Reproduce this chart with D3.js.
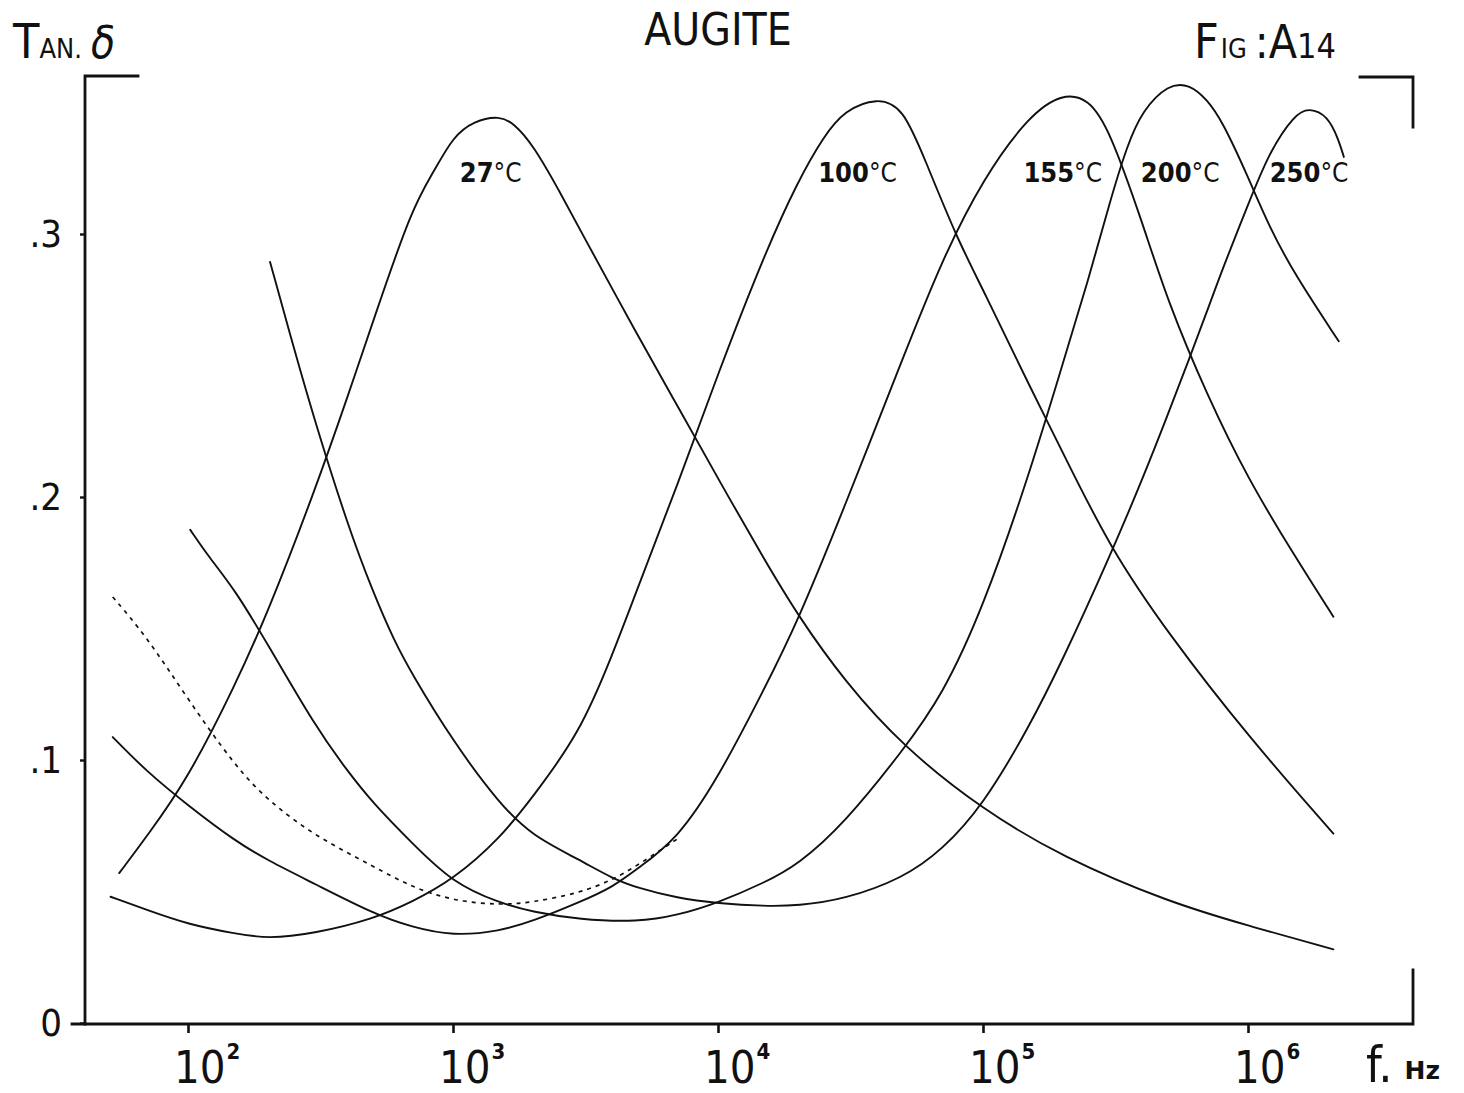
<!DOCTYPE html>
<html>
<head>
<meta charset="utf-8">
<script src="https://cdn.jsdelivr.net/npm/d3@7"></script>
<style>
  body { margin: 0; background: #fff; }
  svg { display: block; }
  text { font-family: "DejaVu Sans", "Liberation Sans", sans-serif; fill: #111; }
  .narrow { font-family: "Liberation Sans Narrow", "DejaVu Sans Condensed", "DejaVu Sans", sans-serif; font-stretch: condensed; }
</style>
</head>
<body>
<svg id="chart" width="1464" height="1093"></svg>
<script>
// ---- Loss tangent of augite versus frequency, one curve per temperature ----

// Frequencies in Hz, loss tangent (tan δ) at each frequency
const freq27  = [55, 70, 100, 150, 200, 300, 400, 500, 700, 850, 1000, 1200, 1500, 1700, 2000, 2500, 3000, 5000, 7000, 1e4, 1.5e4, 2e4, 3e4, 5e4, 1e5, 2e5, 5e5, 1e6, 2.1e6];
const tan27   = [0.057, 0.071, 0.093, 0.128, 0.156, 0.202, 0.238, 0.267, 0.310, 0.324, 0.337, 0.343, 0.345, 0.342, 0.334, 0.317, 0.302, 0.261, 0.235, 0.207, 0.176, 0.155, 0.130, 0.105, 0.081, 0.063, 0.046, 0.037, 0.028];

const freq100 = [51, 70, 100, 150, 200, 300, 500, 700, 1000, 1500, 2000, 3000, 4000, 5000, 7000, 1e4, 1.5e4, 2e4, 2.5e4, 3e4, 4e4, 5e4, 6e4, 8e4, 1e5, 1.5e5, 2e5, 3e5, 5e5, 1e6, 2.1e6];
const tan100  = [0.048, 0.043, 0.0375, 0.034, 0.032, 0.034, 0.0395, 0.046, 0.0545, 0.070, 0.086, 0.110, 0.140, 0.166, 0.204, 0.247, 0.2925, 0.320, 0.337, 0.347, 0.352, 0.348, 0.329, 0.298, 0.279, 0.242, 0.217, 0.181, 0.148, 0.109, 0.072];

const freq155 = [52, 70, 100, 150, 200, 300, 500, 700, 1000, 1500, 2000, 3000, 4000, 5000, 7000, 1e4, 1.5e4, 2e4, 3e4, 5e4, 7e4, 1e5, 1.5e5, 2e5, 2.5e5, 3e5, 4e5, 5e5, 7e5, 1e6, 1.5e6, 2.1e6];
const tan155  = [0.1087, 0.0955, 0.0827, 0.0693, 0.0618, 0.053, 0.0416, 0.0364, 0.0331, 0.0349, 0.0387, 0.0459, 0.0516, 0.0589, 0.0698, 0.0930, 0.1273, 0.1527, 0.1961, 0.2532, 0.2901, 0.3211, 0.3454, 0.3535, 0.3515, 0.3398, 0.3042, 0.2738, 0.2388, 0.2068, 0.1776, 0.1545];

const freq200 = [102, 120, 150, 200, 300, 400, 500, 700, 1000, 1500, 2000, 3000, 5000, 7000, 1e4, 1.5e4, 2e4, 3e4, 5e4, 7e4, 1e5, 1.5e5, 2e5, 2.5e5, 3e5, 3.5e5, 4e5, 5e5, 6e5, 7e5, 8e5, 1e6, 1.2e6, 1.5e6, 2.2e6];
const tan200  = [0.1875, 0.1771, 0.1649, 0.144, 0.1133, 0.0957, 0.0835, 0.0684, 0.0532, 0.0456, 0.0422, 0.0393, 0.0384, 0.0409, 0.0457, 0.0534, 0.0601, 0.0759, 0.1038, 0.1243, 0.1577, 0.209, 0.2508, 0.2825, 0.3118, 0.3338, 0.347, 0.357, 0.357, 0.3512, 0.3429, 0.3218, 0.3029, 0.2846, 0.2592];

const freq250 = [204, 250, 300, 400, 500, 600, 700, 1000, 1500, 2000, 3000, 4000, 5000, 7000, 1e4, 1.5e4, 2e4, 3e4, 5e4, 7e4, 1e5, 1.5e5, 2e5, 3e5, 4e5, 5e5, 6e5, 7e5, 8e5, 1e6, 1.2e6, 1.5e6, 1.7e6, 2e6, 2.2e6, 2.3e6];
const tan250  = [0.2894, 0.2571, 0.2293, 0.1894, 0.1636, 0.1453, 0.1327, 0.1071, 0.0832, 0.071, 0.0621, 0.0549, 0.0513, 0.0475, 0.0455, 0.0444, 0.0446, 0.047, 0.0551, 0.0657, 0.0827, 0.1129, 0.1381, 0.1771, 0.2068, 0.2317, 0.2525, 0.2705, 0.2866, 0.3111, 0.331, 0.3455, 0.348, 0.345, 0.3357, 0.3293];

// Low-frequency branch drawn dotted (unlabelled)
const freqDot = [52, 70, 100, 150, 200, 300, 500, 700, 1000, 1500, 2000, 3000, 4000, 5000, 7200];
const tanDot  = [0.162, 0.1468, 0.123, 0.0979, 0.0846, 0.0712, 0.0596, 0.0516, 0.0465, 0.0448, 0.0459, 0.0494, 0.0544, 0.0601, 0.0707];

const tempLabels = ["27", "100", "155", "200", "250"];
const decades = [2, 3, 4, 5, 6];
const yTicks = [0, 0.1, 0.2, 0.3];

const series = [
  { label: tempLabels[0], f: freq27,  t: tan27 },
  { label: tempLabels[1], f: freq100, t: tan100 },
  { label: tempLabels[2], f: freq155, t: tan155 },
  { label: tempLabels[3], f: freq200, t: tan200 },
  { label: tempLabels[4], f: freq250, t: tan250 }
];

// ---- Scales ----
const svg = d3.select("#chart");
const x = d3.scaleLog().domain([1e2, 1e6]).range([188, 1248]);
const y = d3.scaleLinear().domain([0, 0.3]).range([1023, 234]);

const ink = "#111";

// ---- Frame: left and bottom axes with bracket corners ----
const frame = svg.append("g")
  .attr("fill", "none").attr("stroke", ink)
  .attr("stroke-width", 2.8).attr("stroke-linecap", "square");
frame.append("path").attr("d", "M138,76 H85 V1024");
frame.append("path").attr("d", "M72,1024 H1413 V970");
frame.append("path").attr("d", "M1360,77 H1413 V127");

// ---- Bottom axis ticks (decades) ----
const xAxis = d3.axisBottom(x)
  .tickValues(decades.map(d => Math.pow(10, d)))
  .tickSize(9).tickSizeOuter(0).tickFormat("");
const gx = svg.append("g").attr("transform", "translate(0,1024)").call(xAxis);
gx.select(".domain").remove();
gx.selectAll(".tick line").attr("stroke", ink).attr("stroke-width", 2.6);

const xLab = svg.append("g");
decades.forEach(d => {
  const t = xLab.append("text")
    .attr("class", "narrow")
    .attr("x", x(Math.pow(10, d)) - 14)
    .attr("y", 1083);
  t.append("tspan").attr("font-size", 45).text("10");
  t.append("tspan").attr("font-size", 22).attr("font-weight", "bold")
    .attr("dy", -24).attr("dx", 1).text(d);
});

// ---- Left axis ----
const yAxis = d3.axisLeft(y)
  .tickValues(yTicks)
  .tickSize(5).tickSizeOuter(0).tickPadding(18)
  .tickFormat(d => d === 0 ? "0" : d3.format(".1f")(d).replace(/^0/, ""));
const gy = svg.append("g").attr("transform", "translate(85,0)").call(yAxis);
gy.select(".domain").remove();
gy.selectAll(".tick line").attr("stroke", ink).attr("stroke-width", 2.4);
gy.selectAll(".tick text")
  .attr("font-size", 38).attr("fill", ink)
  .attr("class", "narrow");

// ---- Curves ----
const line = d3.line()
  .x(d => x(d[0]))
  .y(d => y(d[1]))
  .curve(d3.curveBasis);

const curves = svg.append("g").attr("fill", "none").attr("stroke", ink)
  .attr("stroke-width", 1.9).attr("stroke-linejoin", "round").attr("stroke-linecap", "round");

series.forEach(s => {
  curves.append("path").attr("d", line(d3.zip(s.f, s.t)));
});

curves.append("path")
  .attr("d", line(d3.zip(freqDot, tanDot)))
  .attr("stroke-width", 1.7)
  .attr("stroke-dasharray", "4,5")
  .attr("stroke-linecap", "butt");

// ---- Temperature labels near each peak ----
const labelShift = [-9, -20, 0, 12, 0];
const labG = svg.append("g");
series.forEach((s, k) => {
  const i = d3.maxIndex(s.t);
  const t = labG.append("text")
    .attr("class", "narrow")
    .attr("x", x(s.f[i]) + labelShift[k])
    .attr("y", 182)
    .attr("text-anchor", "middle");
  t.append("tspan").attr("font-size", 27).attr("font-weight", "bold").text(s.label);
  t.append("tspan").attr("font-size", 26).text("°C");
});

// ---- Titles ----
svg.append("text").attr("class", "narrow").attr("x", 718).attr("y", 45)
  .attr("text-anchor", "middle").attr("font-size", 44).text("AUGITE");

const yTitle = svg.append("text").attr("class", "narrow").attr("x", 13).attr("y", 58);
yTitle.append("tspan").attr("font-size", 48).text("T");
yTitle.append("tspan").attr("font-size", 27).attr("dx", 0).text("AN.");
yTitle.append("tspan").attr("font-size", 44).attr("font-style", "italic").attr("dx", 9).text("δ");

const fig = svg.append("text").attr("class", "narrow").attr("x", 1194).attr("y", 58);
fig.append("tspan").attr("font-size", 48).text("F");
fig.append("tspan").attr("font-size", 27).attr("dx", 2).text("IG");
fig.append("tspan").attr("font-size", 46).attr("dx", 8).text(":A");
fig.append("tspan").attr("font-size", 34).text("14");

const xTitle = svg.append("text").attr("x", 1366).attr("y", 1082);
xTitle.append("tspan").attr("class", "narrow").attr("font-size", 50).text("f.");
xTitle.append("tspan").attr("font-size", 25).attr("font-weight", "bold").attr("dx", 12).attr("dy", -3).text("Hz");
</script>
</body>
</html>
